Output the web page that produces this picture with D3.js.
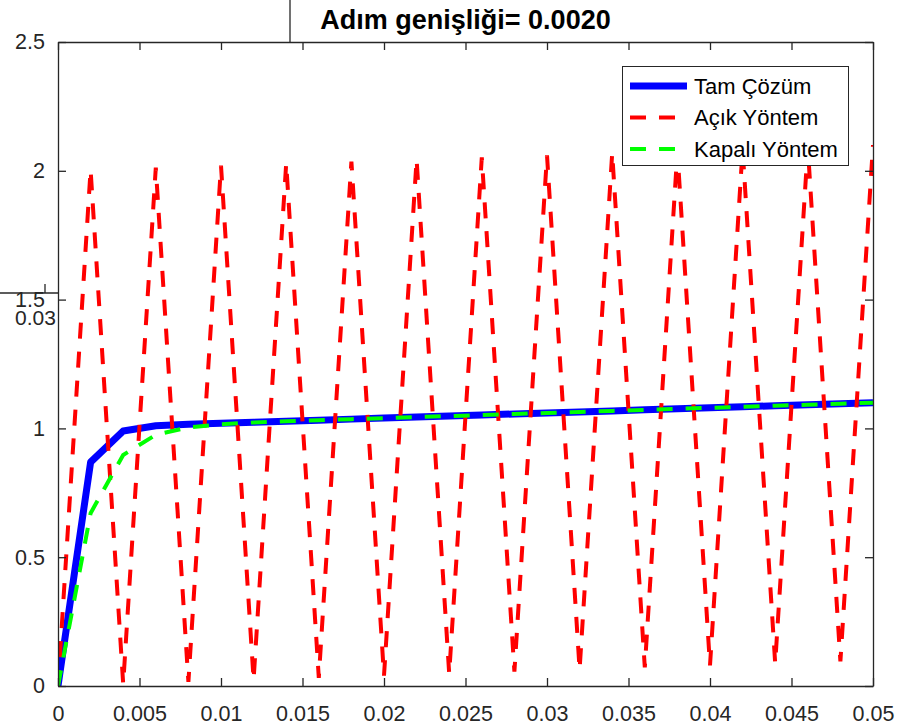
<!DOCTYPE html>
<html>
<head>
<meta charset="utf-8">
<script src="https://cdn.jsdelivr.net/npm/d3@7"></script>
<style>
	body { margin: 0; background: #fff; }
	text { font-family: "Liberation Sans", Arial, sans-serif; }
</style>
</head>
<body>
<div id="chart"></div>
<script>
	// data (step 0.002)
	var tValues = [0, 0.002, 0.004, 0.006, 0.008, 0.010, 0.012, 0.014, 0.016, 0.018, 0.020,
		0.022, 0.024, 0.026, 0.028, 0.030, 0.032, 0.034, 0.036, 0.038, 0.040,
		0.042, 0.044, 0.046, 0.048, 0.050];
	var exactValues = [0, 0.869, 0.990, 1.010, 1.016, 1.020, 1.024, 1.028, 1.032, 1.036, 1.040,
		1.044, 1.048, 1.052, 1.056, 1.060, 1.064, 1.068, 1.072, 1.076, 1.080,
		1.084, 1.088, 1.092, 1.096, 1.100];
	var explicitValues = [0, 2.004, 0.008, 2.012, 0.016, 2.020, 0.024, 2.028, 0.032, 2.036, 0.040,
		2.044, 0.048, 2.052, 0.056, 2.060, 0.064, 2.068, 0.072, 2.076, 0.080,
		2.084, 0.088, 2.092, 0.096, 2.100];
	var implicitValues = [0, 0.671, 0.897, 0.975, 1.004, 1.016, 1.023, 1.028, 1.032, 1.036, 1.040,
		1.044, 1.048, 1.052, 1.056, 1.060, 1.064, 1.068, 1.072, 1.076, 1.080,
		1.084, 1.088, 1.092, 1.096, 1.100];
	var xTicks = [0, 0.005, 0.01, 0.015, 0.02, 0.025, 0.03, 0.035, 0.04, 0.045, 0.05];
	var yTicks = [0, 0.5, 1, 1.5, 2, 2.5];
	var seriesNames = ["Tam Çözüm", "Açık Yöntem", "Kapalı Yöntem"];
	var titleText = "Adım genişliği= 0.0020";

	var WIDTH = 900, HEIGHT = 727, MARGINS = {
		top : 42,
		right : 27,
		bottom : 41,
		left : 58
	};
	var AXIS = "#262626";

	var svg = d3.select("#chart").append("svg").attr("width", WIDTH).attr("height", HEIGHT);

	// leftovers of the axes drawn underneath (only the part outside the plot shows)
	var back = svg.append("g").attr("class", "back");
	back.append("line").attr("x1", 290).attr("x2", 290).attr("y1", 0).attr("y2", 42)
		.attr("stroke", AXIS).attr("stroke-width", 1.3);
	back.append("line").attr("x1", 0).attr("x2", 200).attr("y1", 293).attr("y2", 293)
		.attr("stroke", AXIS).attr("stroke-width", 1.3);
	back.append("line").attr("x1", 45).attr("x2", 45).attr("y1", 293).attr("y2", 284)
		.attr("stroke", AXIS).attr("stroke-width", 1.3);
	back.append("text").attr("x", 15).attr("y", 325).attr("fill", AXIS)
		.style("font-size", "21px").text("0.03");

	var xScale = d3.scaleLinear().range([ MARGINS.left, WIDTH - MARGINS.right ])
		.domain([ 0, 0.05 ]);
	var yScale = d3.scaleLinear().range([ HEIGHT - MARGINS.bottom, MARGINS.top ])
		.domain([ 0, 2.5 ]);

	// white plot area hides the axes behind
	svg.append("rect").attr("x", MARGINS.left).attr("y", MARGINS.top)
		.attr("width", xScale.range()[1] - MARGINS.left)
		.attr("height", yScale.range()[0] - MARGINS.top).attr("fill", "#fff");

	var fmt = function(d) { return String(+d.toFixed(3)); };

	svg.append("defs").append("clipPath").attr("id", "clip").append("rect")
		.attr("x", MARGINS.left).attr("y", MARGINS.top)
		.attr("width", xScale.range()[1] - MARGINS.left)
		.attr("height", yScale.range()[0] - MARGINS.top);

	var chartBody = svg.append("g").attr("clip-path", "url(#clip)");
	var lineGen = d3.line().x(function(d, i) {
		return xScale(tValues[i]);
	}).y(function(d) {
		return yScale(d);
	});

	chartBody.append("path").attr("d", lineGen(exactValues)).attr("fill", "none")
		.attr("stroke", "#0000ff").attr("stroke-width", 7).attr("stroke-linejoin", "round");
	chartBody.append("path").attr("d", lineGen(explicitValues)).attr("fill", "none")
		.attr("stroke", "#ff0000").attr("stroke-width", 4).attr("stroke-dasharray", "16,13");
	chartBody.append("path").attr("d", lineGen(implicitValues)).attr("fill", "none")
		.attr("stroke", "#00ff00").attr("stroke-width", 4).attr("stroke-dasharray", "16,13");

	// axes, MATLAB style box with inward ticks
	function styleAxis(g) {
		g.selectAll("path").attr("stroke", AXIS).attr("stroke-width", 1.3);
		g.selectAll("line").attr("stroke", AXIS).attr("stroke-width", 1.3);
		g.selectAll("text").attr("fill", AXIS).style("font-size", "21.5px")
			.style("font-family", "'Liberation Sans', Arial, sans-serif");
	}
	var gX = svg.append("g").attr("transform", "translate(0," + yScale(0) + ")")
		.call(d3.axisBottom(xScale).tickValues(xTicks).tickFormat(fmt)
			.tickSizeInner(-8).tickSizeOuter(0).tickPadding(20));
	styleAxis(gX);
	var gXt = svg.append("g").attr("transform", "translate(0," + yScale(2.5) + ")")
		.call(d3.axisTop(xScale).tickValues(xTicks).tickFormat("")
			.tickSizeInner(-8).tickSizeOuter(0));
	styleAxis(gXt);
	var gY = svg.append("g").attr("transform", "translate(" + xScale(0) + ",0)")
		.call(d3.axisLeft(yScale).tickValues(yTicks).tickFormat(fmt)
			.tickSizeInner(-8).tickSizeOuter(0).tickPadding(13));
	styleAxis(gY);
	var gYr = svg.append("g").attr("transform", "translate(" + xScale(0.05) + ",0)")
		.call(d3.axisRight(yScale).tickValues(yTicks).tickFormat("")
			.tickSizeInner(-8).tickSizeOuter(0));
	styleAxis(gYr);

	svg.append("text").attr("x", (xScale(0) + xScale(0.05)) / 2).attr("y", 29)
		.attr("text-anchor", "middle").style("font-size", "27px").style("font-weight", "bold")
		.attr("fill", "#000").text(titleText);

	// legend
	var legend = svg.append("g").attr("class", "legend");
	legend.append("rect").attr("x", 622.5).attr("y", 66.5).attr("width", 226).attr("height", 99)
		.attr("fill", "#fff").attr("stroke", AXIS).attr("stroke-width", 1);
	var legStyles = [
		{ color: "#0000ff", width: 7, dash: null },
		{ color: "#ff0000", width: 4, dash: "16,13" },
		{ color: "#00ff00", width: 4, dash: "16,13" }
	];
	seriesNames.forEach(function(name, i) {
		var y = 86 + i * 31.5;
		var ln = legend.append("line").attr("x1", 630).attr("x2", 687).attr("y1", y).attr("y2", y)
			.attr("stroke", legStyles[i].color).attr("stroke-width", legStyles[i].width);
		if (legStyles[i].dash) ln.attr("stroke-dasharray", legStyles[i].dash);
		legend.append("text").attr("x", 694).attr("y", y).attr("dy", "0.35em")
			.style("font-size", "22px").attr("fill", "#000").text(name);
	});
</script>
</body>
</html>
